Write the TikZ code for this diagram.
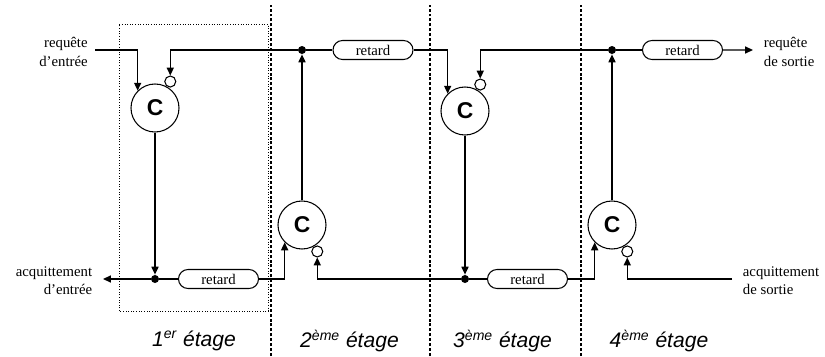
\documentclass[tikz,border=0pt]{standalone}
\usepackage{fontspec}
\setmainfont{Liberation Serif}
\setsansfont{Liberation Sans}
\usetikzlibrary{arrows.meta,shapes.misc}

\tikzset{
  celem/.style={circle, draw, line width=0.6pt, minimum size=0.96cm, inner sep=0pt,
    font=\sffamily\bfseries\fontsize{13}{14}\selectfont},
  bubble/.style={circle, draw, line width=0.6pt, fill=white, minimum size=0.22cm, inner sep=0pt},
  junction/.style={circle, fill, minimum size=0.16cm, inner sep=0pt},
  delay/.style={rounded rectangle, draw, line width=0.6pt, minimum width=1.6cm,
    minimum height=0.38cm, inner sep=0pt, font=\fontsize{8.4}{10}\selectfont},
  wire/.style={line width=0.85pt},
  sig/.style={wire, -{Triangle[length=4.5pt,width=4pt]}},
  lbl/.style={font=\fontsize{8.4}{10.5}\selectfont, inner sep=0pt},
  stagelbl/.style={font=\sffamily\itshape\fontsize{12}{13}\selectfont},
  border/.style={line width=0.75pt, dash pattern=on 1.7pt off 1.1pt}
}

\begin{document}
\begin{tikzpicture}
  \useasboundingbox (0,0) rectangle (16.5,7.12);

  % Draw the stage boundaries
  \draw[border] (5.42,0) -- (5.42,7.02);
  \draw[border] (8.60,0) -- (8.60,7.02);
  \draw[border] (11.62,0) -- (11.62,7.02);

  % Draw the frame of the first stage
  \draw[densely dotted, line width=0.5pt] (2.38,0.90) rectangle (5.36,6.64);

  % Draw the C elements and their inverted inputs
  \node[celem] (c1) at (3.10,4.96) {C};
  \node[celem] (c2) at (6.04,2.62) {C};
  \node[celem] (c3) at (9.30,4.90) {C};
  \node[celem] (c4) at (12.24,2.62) {C};

  \node[bubble, anchor=240] (b1) at (c1.60) {};
  \node[bubble, anchor=120] (b2) at (c2.-60) {};
  \node[bubble, anchor=240] (b3) at (c3.60) {};
  \node[bubble, anchor=120] (b4) at (c4.-60) {};

  % Draw the junctions and the delays
  \node[junction] (d1) at (6.04,6.12) {};
  \node[junction] (d3) at (12.24,6.12) {};
  \node[junction] (d0) at (3.10,1.54) {};
  \node[junction] (d2) at (9.30,1.54) {};

  \node[delay] (r1) at (7.46,6.12) {retard};
  \node[delay] (r3) at (13.65,6.12) {retard};
  \node[delay] (rb1) at (4.37,1.54) {retard};
  \node[delay] (rb2) at (10.55,1.54) {retard};

  % Free ends and their labels
  \coordinate (reqin) at (1.90,6.12);
  \coordinate (ackin) at (2.06,1.54);
  \coordinate (reqout) at (15.06,6.12);
  \coordinate (ackout) at (14.64,1.54);

  \node[lbl, anchor=east, align=right] (reqinlbl) at ([xshift=-4pt,yshift=-1pt]reqin) {requête\\d'entrée};
  \node[lbl, anchor=east, align=right] (ackinlbl) at ([xshift=-6pt,yshift=-1pt]ackin) {acquittement\\d'entrée};
  \node[lbl, anchor=west, align=left] (reqoutlbl) at ([xshift=6pt,yshift=-1pt]reqout) {requête\\de sortie};
  \node[lbl, anchor=west, align=left] (ackoutlbl) at ([xshift=6pt,yshift=-1pt]ackout) {acquittement\\de sortie};

  % Draw the request wires
  \draw[sig] (reqin) -| (c1.north west);
  \draw[sig] (c2) -- (d1);
  \draw[sig] (d1) -| (b1.north);
  \draw[wire] (d1) -- (r1);
  \draw[sig] (r1) -| (c3.north west);
  \draw[sig] (c4) -- (d3);
  \draw[sig] (d3) -| (b3.north);
  \draw[wire] (d3) -- (r3);
  \draw[sig] (r3) -- (reqout);

  % Draw the acknowledge wires
  \draw[sig] (c1) -- (d0);
  \draw[sig] (d0) -- (ackin);
  \draw[wire] (d0) -- (rb1);
  \draw[sig] (rb1) -| (c2.south west);
  \draw[sig] (c3) -- (d2);
  \draw[sig] (d2) -| (b2.south);
  \draw[wire] (d2) -- (rb2);
  \draw[sig] (rb2) -| (c4.south west);
  \draw[sig] (ackout) -| (b4.south);

  % Stage names
  \node[stagelbl] (st1) at (3.88,0.30) {1\textsuperscript{er} étage};
  \node[stagelbl] (st2) at (6.99,0.30) {2\textsuperscript{ème} étage};
  \node[stagelbl] (st3) at (10.05,0.30) {3\textsuperscript{ème} étage};
  \node[stagelbl] (st4) at (13.18,0.30) {4\textsuperscript{ème} étage};
\end{tikzpicture}
\end{document}
